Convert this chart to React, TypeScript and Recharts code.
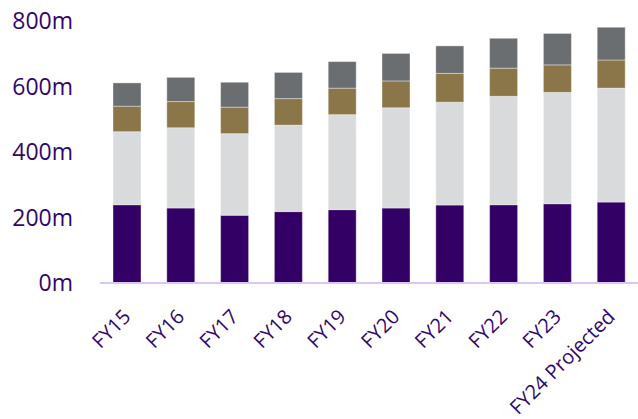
import React from "react";
import { BarChart, Bar, XAxis, YAxis } from "recharts";

const years = ["FY15", "FY16", "FY17", "FY18", "FY19", "FY20", "FY21", "FY22", "FY23", "FY24 Projected"];
// stacked segments, bottom to top (millions)
const baseSeg = [239, 229, 207, 218, 224, 229, 238, 239, 242, 247];
const secondSeg = [223, 245, 249, 264, 290, 306, 314, 331, 340, 348];
const thirdSeg = [78, 80, 81, 81, 81, 82, 88, 86, 84, 86];
const topSeg = [71, 74, 76, 80, 81, 84, 84, 91, 96, 100];
const yTicks = [0, 200, 400, 600, 800];

const data = years.map((year, i) => ({
  year,
  a: baseSeg[i],
  b: secondSeg[i],
  c: thirdSeg[i],
  d: topSeg[i],
}));

const TEXT = "#33066b";
const FONT = "'Open Sans', sans-serif";

function YearTick({ x, y, payload }: { x?: number; y?: number; payload?: { value: string } }) {
  const ax = (x ?? 0) + 5;
  const ay = (y ?? 0) + 35;
  return (
    <text
      x={ax}
      y={ay}
      transform={`rotate(-45, ${ax}, ${ay})`}
      textAnchor="end"
      fill={TEXT}
      fontSize={20}
      fontFamily={FONT}
    >
      {payload?.value}
    </text>
  );
}

export default function App() {
  const seg = { stroke: "#ffffff", strokeWidth: 0.75, strokeOpacity: 0.5 };
  return (
    <div style={{ position: "absolute", left: 0, top: 0, width: 638, height: 419, background: "#fff" }}>
      <BarChart
        width={638}
        height={419}
        data={data}
        margin={{ top: 21, right: 0, bottom: 0, left: 0 }}
        barSize={28}
      >
        <XAxis
          dataKey="year"
          interval={0}
          tickLine={false}
          tickSize={0}
          tickMargin={0}
          axisLine={{ stroke: "#d9c6f7", strokeWidth: 2 }}
          tick={<YearTick />}
          height={136}
        />
        <YAxis
          domain={[0, 800]}
          ticks={yTicks}
          width={100}
          axisLine={false}
          tickLine={false}
          tickSize={0}
          tickMargin={27}
          tickFormatter={(v: number) => `${v}m`}
          tick={{ fill: TEXT, fontSize: 23, fontFamily: FONT }}
        />
        <Bar dataKey="a" stackId="s" fill="#330066" {...seg} isAnimationActive={false} />
        <Bar dataKey="b" stackId="s" fill="#d9dadb" {...seg} isAnimationActive={false} />
        <Bar dataKey="c" stackId="s" fill="#8b7649" {...seg} isAnimationActive={false} />
        <Bar dataKey="d" stackId="s" fill="#6b6e71" {...seg} isAnimationActive={false} />
      </BarChart>
    </div>
  );
}
